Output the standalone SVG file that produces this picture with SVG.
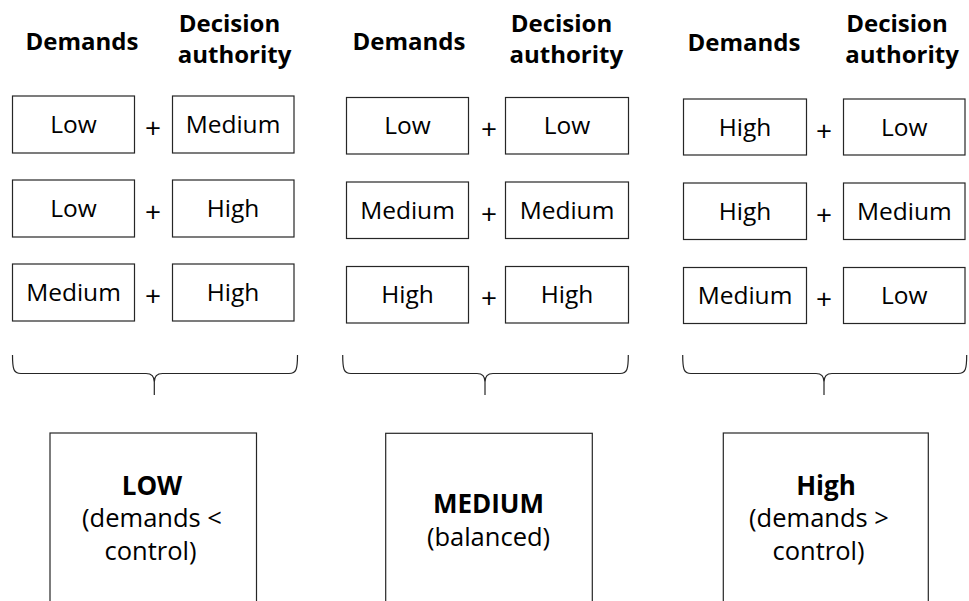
<svg xmlns="http://www.w3.org/2000/svg" width="969" height="601" viewBox="0 0 969 601">
<style>
.bg{fill:#ffffff}
.box{fill:#ffffff;stroke:#262626;stroke-width:1.2}
.hdr{font-family:"Open Sans","Noto Sans","Liberation Sans",sans-serif;font-weight:bold;font-size:24px;fill:#000;text-anchor:middle}
.lbl{font-family:"Open Sans","Noto Sans","Liberation Sans",sans-serif;font-size:24.5px;fill:#000;text-anchor:middle}
.plus{font-family:"Open Sans","Noto Sans","Liberation Sans",sans-serif;font-size:28px;fill:#000;text-anchor:middle}
.big{font-family:"Open Sans","Noto Sans","Liberation Sans",sans-serif;font-weight:bold;font-size:26px;fill:#000;text-anchor:middle}
.sub{font-family:"Open Sans","Noto Sans","Liberation Sans",sans-serif;font-size:25.5px;fill:#000;text-anchor:middle}
.brace{fill:none;stroke:#262626;stroke-width:1.2}
</style>
<rect class="bg" x="0" y="0" width="969" height="601"/>

<g id="headers">
  <text class="hdr" x="82" y="50">Demands</text>
  <text class="hdr" x="229.5" y="32">Decision</text>
  <text class="hdr" x="234.5" y="63">authority</text>
  <text class="hdr" x="409" y="50">Demands</text>
  <text class="hdr" x="561.5" y="32">Decision</text>
  <text class="hdr" x="566.3" y="63">authority</text>
  <text class="hdr" x="744" y="50.5">Demands</text>
  <text class="hdr" x="897" y="32">Decision</text>
  <text class="hdr" x="902" y="63">authority</text>
</g>

<!-- Column 1 -->
<g id="c1r1d"><rect class="box" x="12.5" y="96" width="122" height="57"/><text class="lbl" x="73.5" y="133">Low</text></g>
<g id="c1r1a"><rect class="box" x="172.5" y="96" width="121.5" height="57"/><text class="lbl" x="233" y="133">Medium</text></g>
<g id="c1r2d"><rect class="box" x="12.5" y="180" width="122" height="57"/><text class="lbl" x="73.5" y="217">Low</text></g>
<g id="c1r2a"><rect class="box" x="172.5" y="180" width="121.5" height="57"/><text class="lbl" x="233" y="217">High</text></g>
<g id="c1r3d"><rect class="box" x="12.5" y="264" width="122" height="57"/><text class="lbl" x="73.5" y="301">Medium</text></g>
<g id="c1r3a"><rect class="box" x="172.5" y="264" width="121.5" height="57"/><text class="lbl" x="233" y="301">High</text></g>
<g id="c1plus">
  <text class="plus" x="153" y="138">+</text>
  <text class="plus" x="153" y="222">+</text>
  <text class="plus" x="153" y="306">+</text>
</g>

<!-- Column 2 -->
<g id="c2r1d"><rect class="box" x="346.5" y="97.5" width="122" height="56.5"/><text class="lbl" x="407.5" y="134.3">Low</text></g>
<g id="c2r1a"><rect class="box" x="505.5" y="97.5" width="123" height="56.5"/><text class="lbl" x="567" y="134.3">Low</text></g>
<g id="c2r2d"><rect class="box" x="346.5" y="182" width="122" height="56.5"/><text class="lbl" x="407.5" y="218.8">Medium</text></g>
<g id="c2r2a"><rect class="box" x="505.5" y="182" width="123" height="56.5"/><text class="lbl" x="567" y="218.8">Medium</text></g>
<g id="c2r3d"><rect class="box" x="346.5" y="266.5" width="122" height="56.5"/><text class="lbl" x="407.5" y="303.2">High</text></g>
<g id="c2r3a"><rect class="box" x="505.5" y="266.5" width="123" height="56.5"/><text class="lbl" x="567" y="303.2">High</text></g>
<g id="c2plus">
  <text class="plus" x="489" y="139.3">+</text>
  <text class="plus" x="489" y="223.8">+</text>
  <text class="plus" x="489" y="308">+</text>
</g>

<!-- Column 3 -->
<g id="c3r1d"><rect class="box" x="683.5" y="99" width="123" height="56"/><text class="lbl" x="745" y="135.5">High</text></g>
<g id="c3r1a"><rect class="box" x="843.5" y="99" width="121.5" height="56"/><text class="lbl" x="904.3" y="135.5">Low</text></g>
<g id="c3r2d"><rect class="box" x="683.5" y="183" width="123" height="56.5"/><text class="lbl" x="745" y="219.7">High</text></g>
<g id="c3r2a"><rect class="box" x="843.5" y="183" width="121.5" height="56.5"/><text class="lbl" x="904.3" y="219.7">Medium</text></g>
<g id="c3r3d"><rect class="box" x="683.5" y="267.5" width="123" height="56"/><text class="lbl" x="745" y="303.8">Medium</text></g>
<g id="c3r3a"><rect class="box" x="843.5" y="267.5" width="121.5" height="56"/><text class="lbl" x="904.3" y="303.8">Low</text></g>
<g id="c3plus">
  <text class="plus" x="824" y="140.5">+</text>
  <text class="plus" x="824" y="225">+</text>
  <text class="plus" x="824" y="309">+</text>
</g>

<g id="connectors">
  <path class="brace" d="M12.5,355 C12.5,369 13.5,373.5 21,373.5 L146,373.5 C151.5,373.5 154.3,376 154.3,382 L154.3,395 M297.5,355 C297.5,369 296.5,373.5 289,373.5 L162.5,373.5 C157,373.5 154.3,376 154.3,382"/>
  <path class="brace" d="M342.7,355 C342.7,369 343.7,373.5 351,373.5 L477,373.5 C482.5,373.5 485,376 485,382 L485,395 M628.3,355 C628.3,369 627.3,373.5 620,373.5 L493,373.5 C487.5,373.5 485,376 485,382"/>
  <path class="brace" d="M682.7,355 C682.7,369 683.7,373.5 691,373.5 L816,373.5 C821.5,373.5 824,376 824,382 L824,395 M966.7,355 C966.7,369 965.7,373.5 958,373.5 L832,373.5 C826.5,373.5 824,376 824,382"/>
</g>

<g id="result-low">
  <rect class="box" x="50" y="433" width="206.5" height="200"/>
  <text class="big" x="152" y="495">LOW</text>
  <text class="sub" x="152" y="527">(demands &lt;</text>
  <text class="sub" x="150.5" y="560">control)</text>
</g>
<g id="result-medium">
  <rect class="box" x="385.7" y="433.3" width="206.6" height="200"/>
  <text class="big" x="488.5" y="513.3">MEDIUM</text>
  <text class="sub" x="488.5" y="546">(balanced)</text>
</g>
<g id="result-high">
  <rect class="box" x="723.3" y="433" width="205" height="200"/>
  <text class="big" x="826" y="495">High</text>
  <text class="sub" x="819" y="527">(demands &gt;</text>
  <text class="sub" x="818.5" y="560">control)</text>
</g>
</svg>
